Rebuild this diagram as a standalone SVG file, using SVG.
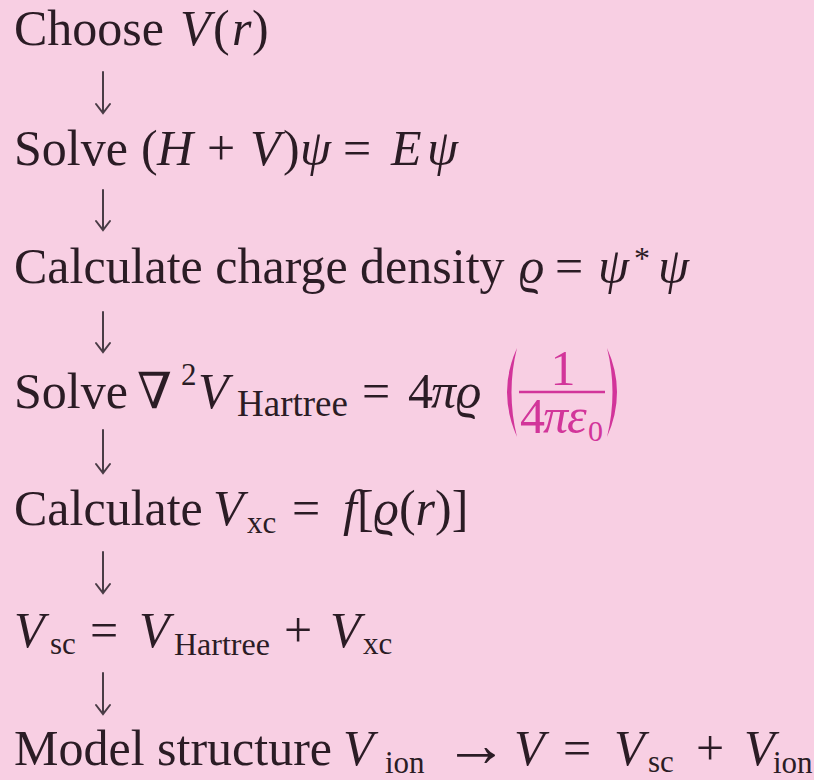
<svg xmlns="http://www.w3.org/2000/svg" width="814" height="780" viewBox="0 0 814 780">
<style>
text{font-family:"Liberation Serif","DejaVu Serif",serif;font-size:50px;fill:#2b1c25}
.i{font-style:italic}
.sb{font-size:31px}
.sh{font-size:37px}
.mg{fill:#d2359a}
.ar{stroke:#4a3c46;stroke-width:2;fill:none;stroke-linecap:round}
</style>
<rect width="814" height="780" fill="#f8cfe3"/>
<g id="connectors">
<path class="ar" d="M103,72V113M96,104L103,113L110,104"/>
<path class="ar" d="M103,190V230M96,221L103,230L110,221"/>
<path class="ar" d="M103,312V352M96,343L103,352L110,343"/>
<path class="ar" d="M103,430V473M96,464L103,473L110,464"/>
<path class="ar" d="M103,552V593M96,584L103,593L110,584"/>
<path class="ar" d="M103,673V714M96,705L103,714L110,705"/>
</g>
<g id="n1">
<text y="45"><tspan x="14">Choose</tspan><tspan x="180" class="i">V</tspan><tspan x="213">(</tspan><tspan x="232" class="i">r</tspan><tspan x="252">)</tspan></text>
</g>
<g id="n2">
<text y="165"><tspan x="14">Solve</tspan><tspan x="141">(</tspan><tspan x="157" class="i">H</tspan><tspan x="207">+</tspan><tspan x="250" class="i">V</tspan><tspan x="283">)</tspan><tspan x="300" class="i">ψ</tspan><tspan x="343">=</tspan><tspan x="391" class="i">E</tspan><tspan x="427" class="i">ψ</tspan></text>
</g>
<g id="n3">
<text y="283"><tspan x="14">Calculate charge density</tspan><tspan x="519" class="i">ϱ</tspan><tspan x="555">=</tspan><tspan x="598" class="i">ψ</tspan><tspan x="634" dy="-14" font-size="32">*</tspan><tspan x="658" dy="14" class="i">ψ</tspan></text>
</g>
<g id="n4">
<text y="408"><tspan x="14">Solve</tspan><tspan x="137">∇</tspan><tspan x="181" y="385" font-size="31">2</tspan><tspan x="198" y="408" class="i">V</tspan><tspan x="237" y="416" class="sh">Hartree</tspan><tspan x="362" y="408">=</tspan><tspan x="408">4</tspan><tspan x="431" class="i">π</tspan><tspan x="456" class="i">ϱ</tspan></text>
<path class="mg" d="M517,348Q497,392 517,437Q506,392 517,348Z"/>
<path class="mg" d="M607,348Q627,392 607,437Q618,392 607,348Z"/>
<line x1="519" y1="392" x2="605" y2="392" stroke="#d2359a" stroke-width="2.5"/>
<text class="mg" x="563" y="385" font-size="45" text-anchor="middle">1</text>
<text class="mg" y="433" font-size="45"><tspan x="520">4</tspan><tspan x="543" class="i">π</tspan><tspan x="567" class="i">ε</tspan><tspan x="588" y="441" font-size="30">0</tspan></text>
</g>
<g id="n5">
<text y="525"><tspan x="14">Calculate</tspan><tspan x="213" class="i">V</tspan><tspan x="247" y="533" class="sb">xc</tspan><tspan x="292" y="525">=</tspan><tspan x="343" class="i">f</tspan><tspan>[</tspan><tspan class="i">ϱ</tspan><tspan>(</tspan><tspan class="i">r</tspan><tspan>)]</tspan></text>
</g>
<g id="n6">
<text y="647"><tspan x="14" class="i">V</tspan><tspan x="50" y="654" class="sb">sc</tspan><tspan x="90" y="647">=</tspan><tspan x="139" class="i">V</tspan><tspan x="174" y="655" font-size="32">Hartree</tspan><tspan x="284" y="647">+</tspan><tspan x="330" class="i">V</tspan><tspan x="363" y="654" class="sb">xc</tspan></text>
</g>
<g id="n7">
<text y="765"><tspan x="14">Model structure</tspan><tspan x="343" class="i">V</tspan><tspan x="385" y="773" class="sb">ion</tspan><tspan x="444" y="766" font-size="64">→</tspan><tspan x="514" y="765" class="i">V</tspan><tspan x="563">=</tspan><tspan x="614" class="i">V</tspan><tspan x="648" y="772" class="sb">sc</tspan><tspan x="696" y="765">+</tspan><tspan x="744" class="i">V</tspan><tspan x="773" y="773" class="sb">ion</tspan></text>
</g>
</svg>
